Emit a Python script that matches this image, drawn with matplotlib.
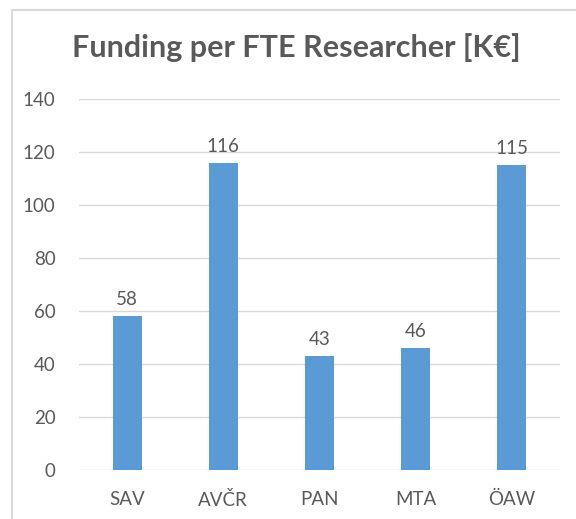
import matplotlib.pyplot as plt
from matplotlib.lines import Line2D

orgs = ["SAV", "AVČR", "PAN", "MTA", "ÖAW"]
funding = [58, 116, 43, 46, 115]
labels = ["58", "116", "43", "46", "115"]
yticks = [0, 20, 40, 60, 80, 100, 120, 140]

txt = "#595959"
plt.rcParams["font.family"] = ["Lato", "DejaVu Sans"]

fig = plt.figure(figsize=(5.76, 5.19), dpi=100)
ax = fig.add_axes([79 / 576, 1 - 470 / 519, 481 / 576, 371 / 519])

x = range(len(orgs))
ax.bar(x, funding, width=0.3, color="#5B9BD5", zorder=3)
for i, v in enumerate(funding):
    ax.text(i, v + 3, labels[i], ha="center", va="bottom", fontsize=13.5, color=txt)

ax.set_xlim(-0.5, 4.5)
ax.set_ylim(0, 140)
ax.set_yticks(yticks)
ax.set_xticks(list(x))
ax.set_xticklabels(orgs)
ax.yaxis.grid(True, color="#D9D9D9", linewidth=1)
ax.set_axisbelow(True)
for s in ax.spines.values():
    s.set_visible(False)
ax.tick_params(length=0, labelsize=13.5, labelcolor=txt)
ax.tick_params(axis="y", pad=17)
ax.tick_params(axis="x", pad=15)

fig.text(0.515, 1 - 48 / 519, "Funding per FTE Researcher [K€]", ha="center",
         va="center", fontsize=22, fontweight="bold", color=txt)

# chart frame
fig.add_artist(Line2D([12 / 576, 12 / 576], [0, 1 - 10 / 519], color="#D9D9D9", lw=1.5))
fig.add_artist(Line2D([12 / 576, 1], [1 - 10 / 519, 1 - 10 / 519], color="#D9D9D9", lw=1.5))

fig.savefig("out.png", dpi=100)
